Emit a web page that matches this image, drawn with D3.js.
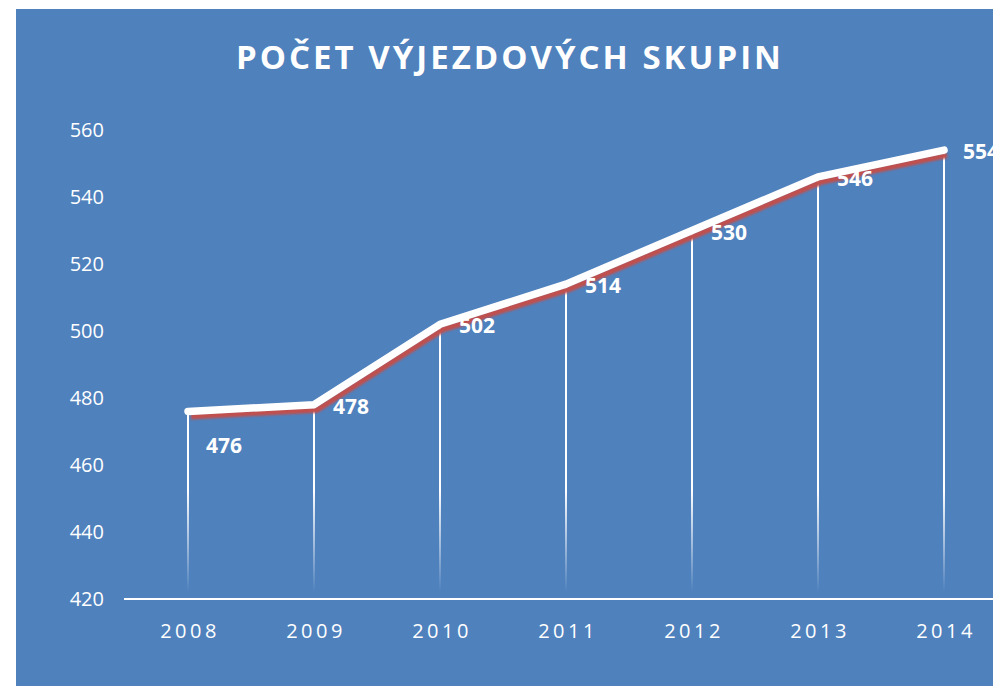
<!DOCTYPE html>
<html>
<head>
    <meta charset="utf-8" />
    <script src="https://d3js.org/d3.v7.min.js"></script>
    <style>
        body { margin: 0; background: #fff; }
        text { font-family: "Open Sans", sans-serif; fill: #fff; }
    </style>
</head>
<body>
<svg id="svg"></svg>
<script>

let years = ["2008", "2009", "2010", "2011", "2012", "2013", "2014"];
let groups = [476, 478, 502, 514, 530, 546, 554];
let yTicks = [420, 440, 460, 480, 500, 520, 540, 560];
let title = "POČET VÝJEZDOVÝCH SKUPIN";

let W = 993, H = 686;

let svg = d3.select("#svg")
    .attr("width", W)
    .attr("height", H);

// background panel
svg.append("rect")
    .attr("x", 16).attr("y", 9)
    .attr("width", W - 16).attr("height", H - 9)
    .attr("fill", "#4F81BD");

let x = d3.scalePoint()
    .domain(years)
    .range([188, 944]);

let y = d3.scaleLinear()
    .domain([420, 560])
    .range([599, 130]);

let defs = svg.append("defs");
let grad = defs.append("linearGradient")
    .attr("id", "drop")
    .attr("gradientUnits", "userSpaceOnUse")
    .attr("x1", 0).attr("x2", 0)
    .attr("y1", 490).attr("y2", 592);
grad.append("stop").attr("offset", 0).attr("stop-color", "#fff").attr("stop-opacity", 1);
grad.append("stop").attr("offset", 1).attr("stop-color", "#fff").attr("stop-opacity", 0);

defs.append("filter").attr("id", "blur")
    .append("feGaussianBlur").attr("stdDeviation", 0.8);

// title
svg.append("text")
    .attr("x", 510).attr("y", 69)
    .attr("text-anchor", "middle")
    .attr("font-size", 33)
    .attr("font-weight", "bold")
    .attr("letter-spacing", 3)
    .text(title);

// y axis labels
svg.selectAll(".ytick")
    .data(yTicks)
    .enter()
    .append("text")
    .attr("class", "ytick")
    .attr("x", 104)
    .attr("y", d => y(d) + 7)
    .attr("text-anchor", "end")
    .attr("font-size", 20)
    .text(d => d);

// drop lines
svg.selectAll(".drop")
    .data(groups)
    .enter()
    .append("line")
    .attr("x1", (d, i) => x(years[i]))
    .attr("x2", (d, i) => x(years[i]) + 0.01)
    .attr("y1", d => y(d))
    .attr("y2", y(420))
    .attr("stroke", "url(#drop)")
    .attr("stroke-width", 2);

// x axis
svg.append("line")
    .attr("x1", 124).attr("x2", W)
    .attr("y1", y(420)).attr("y2", y(420))
    .attr("stroke", "#fff")
    .attr("stroke-width", 2);

svg.selectAll(".xtick")
    .data(years)
    .enter()
    .append("text")
    .attr("x", d => x(d) + 2)
    .attr("y", 638)
    .attr("text-anchor", "middle")
    .attr("font-size", 20)
    .attr("letter-spacing", 3.5)
    .text(d => d);

let line = d3.line()
    .x((d, i) => x(years[i]))
    .y(d => y(d));

// red shadow
svg.append("path")
    .datum(groups)
    .attr("d", line)
    .attr("transform", "translate(3,5)")
    .attr("fill", "none")
    .attr("stroke", "#C0504D")
    .attr("stroke-width", 6)
    .attr("filter", "url(#blur)");

svg.append("path")
    .datum(groups)
    .attr("d", line)
    .attr("fill", "none")
    .attr("stroke", "#fff")
    .attr("stroke-width", 7.5)
    .attr("stroke-linecap", "round")
    .attr("stroke-linejoin", "round");

// data labels
svg.selectAll(".lbl")
    .data(groups)
    .enter()
    .append("text")
    .attr("x", (d, i) => x(years[i]) + (i === 0 ? 18 : 19))
    .attr("y", (d, i) => y(d) + (i === 0 ? 42 : 9))
    .attr("font-size", 21)
    .attr("font-weight", "bold")
    .text(d => d);

</script>
</body>
</html>
